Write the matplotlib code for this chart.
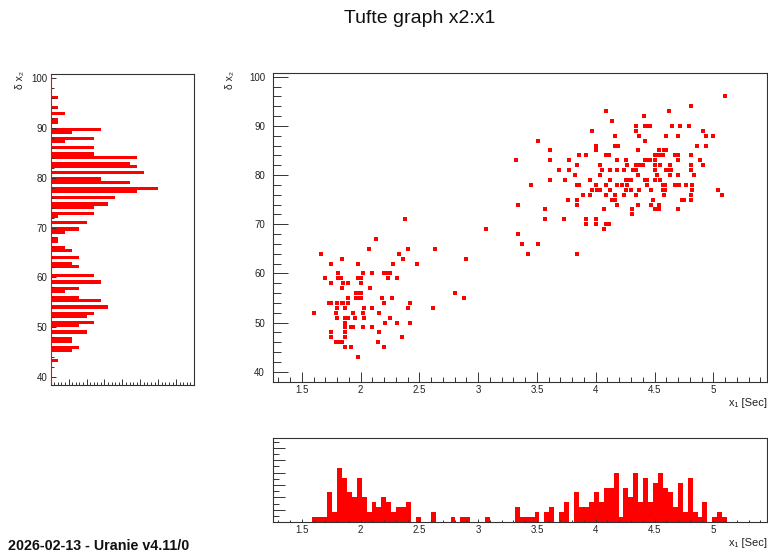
"""Tufte graph x2:x1 -> out.png (scatter with marginal histograms, ROOT look)."""

import matplotlib
matplotlib.use("Agg")
import matplotlib.pyplot as plt
from matplotlib.ticker import MultipleLocator
import numpy as np

plt.rcParams['font.family'] = ['Liberation Sans', 'DejaVu Sans']

# x1 [Sec] values, one line per x2 level (top to bottom)
x1 = [
    5.10,
    4.81,
    4.09, 4.62,
    4.41,
    4.14,
    4.34, 4.42, 4.44, 4.46, 4.65, 4.72, 4.79,
    3.97, 4.34, 4.91,
    4.16, 4.37, 4.60, 4.70, 4.94, 5.00,
    3.51, 4.42,
    4.00, 4.16, 4.18, 4.19, 4.86, 4.94,
    3.61, 4.00, 4.36, 4.54, 4.58, 4.60,
    3.86, 3.92, 4.09, 4.11, 4.50, 4.54, 4.56, 4.57, 4.67, 4.69, 4.70, 4.81,
    3.32, 3.61, 3.77, 4.18, 4.26, 4.42, 4.44, 4.46, 4.50, 4.70, 4.89,
    3.84, 4.04, 4.27, 4.34, 4.36, 4.38, 4.40, 4.50, 4.55, 4.63, 4.81, 4.91,
    3.69, 3.77, 4.05, 4.12, 4.18, 4.24, 4.32, 4.34, 4.50, 4.60, 4.62, 4.64, 4.81,
    3.82, 4.04, 4.36, 4.52, 4.63, 4.70, 4.84,
    3.61, 3.74, 3.95, 4.12, 4.26, 4.28, 4.30, 4.42, 4.44, 4.50, 4.55,
    3.45, 3.84, 3.86, 4.00, 4.09, 4.18, 4.22, 4.27, 4.44, 4.57, 4.59, 4.67, 4.71, 4.77, 4.82,
    3.97, 4.01, 4.04, 4.12, 4.26, 4.30, 4.37, 4.47, 4.57, 4.59, 4.82, 5.04,
    3.89, 3.95, 4.09, 4.16, 4.24, 4.34, 4.58, 4.81, 5.07,
    3.76, 3.84, 4.14, 4.16, 4.49, 4.73, 4.75, 4.81,
    3.34, 3.84, 4.18, 4.36, 4.47, 4.54,
    3.57, 4.07, 4.31, 4.50, 4.54, 4.70,
    4.31,
    2.38, 3.57, 3.73, 3.92, 4.00,
    3.92, 4.00, 4.09, 4.11,
    3.07, 4.07,
    3.34,
    2.13,
    3.37, 3.51,
    2.07, 2.40, 2.63,
    1.66, 2.33, 3.42, 3.84,
    1.84, 2.36, 2.90,
    1.75, 1.98, 2.28, 2.48,
    1.81, 2.02, 2.10, 2.20, 2.22, 2.25,
    1.70, 1.81, 1.83, 1.98, 2.00, 2.23, 2.31,
    1.75, 1.85, 1.89, 2.00,
    1.84, 2.08,
    1.96, 1.98, 2.00, 2.80,
    1.89, 1.96, 1.98, 2.00, 2.18, 2.27, 2.88,
    1.73, 1.75, 1.80, 1.84, 1.85, 1.89, 2.20, 2.42,
    1.80, 1.87, 2.03, 2.10, 2.40, 2.62,
    1.60, 1.79, 1.94, 2.02, 2.16,
    1.80, 1.87, 1.89, 1.95, 2.03, 2.25,
    1.87, 2.21, 2.31, 2.42,
    1.87, 1.92, 1.94, 2.02, 2.10,
    1.75, 1.87, 2.16,
    1.75, 1.87, 2.35,
    1.79, 1.81, 1.84, 2.15,
    1.87, 1.92, 2.20,
    1.98,
]

# matching x2 values
x2 = [
    96,
    94,
    93, 93,
    92,
    91,
    90, 90, 90, 90, 90, 90, 90,
    89, 89, 89,
    88, 88, 88, 88, 88, 88,
    87, 87,
    86, 86, 86, 86, 86, 86,
    85, 85, 85, 85, 85, 85,
    84, 84, 84, 84, 84, 84, 84, 84, 84, 84, 84, 84,
    83, 83, 83, 83, 83, 83, 83, 83, 83, 83, 83,
    82, 82, 82, 82, 82, 82, 82, 82, 82, 82, 82, 82,
    81, 81, 81, 81, 81, 81, 81, 81, 81, 81, 81, 81, 81,
    80, 80, 80, 80, 80, 80, 80,
    79, 79, 79, 79, 79, 79, 79, 79, 79, 79, 79,
    78, 78, 78, 78, 78, 78, 78, 78, 78, 78, 78, 78, 78, 78, 78,
    77, 77, 77, 77, 77, 77, 77, 77, 77, 77, 77, 77,
    76, 76, 76, 76, 76, 76, 76, 76, 76,
    75, 75, 75, 75, 75, 75, 75, 75,
    74, 74, 74, 74, 74, 74,
    73, 73, 73, 73, 73, 73,
    72,
    71, 71, 71, 71, 71,
    70, 70, 70, 70,
    69, 69,
    68,
    67,
    66, 66,
    65, 65, 65,
    64, 64, 64, 64,
    63, 63, 63,
    62, 62, 62, 62,
    60, 60, 60, 60, 60, 60,
    59, 59, 59, 59, 59, 59, 59,
    58, 58, 58, 58,
    57, 57,
    56, 56, 56, 56,
    55, 55, 55, 55, 55, 55, 55,
    54, 54, 54, 54, 54, 54, 54, 54,
    53, 53, 53, 53, 53, 53,
    52, 52, 52, 52, 52,
    51, 51, 51, 51, 51, 51,
    50, 50, 50, 50,
    49, 49, 49, 49, 49,
    48, 48, 48,
    47, 47, 47,
    46, 46, 46, 46,
    45, 45, 45,
    43,
]

x_ticks = [1.5, 2, 2.5, 3, 3.5, 4, 4.5, 5]
x_tick_labels = ["1.5", "2", "2.5", "3", "3.5", "4", "4.5", "5"]
y_ticks = [40, 50, 60, 70, 80, 90, 100]

XMIN, XMAX = 1.253, 5.454
YMIN, YMAX = 37.97, 100.81
NBINS = 100

W, H = 768, 558
RED = "#ff0000"
FRAME = "#333333"


def frame(ax, color=FRAME):
    for s in ax.spines.values():
        s.set_color(color)
        s.set_linewidth(0.8)
    ax.tick_params(which="both", direction="in", color=FRAME, width=0.7,
                   labelsize=7, labelcolor="#222222",
                   top=False, right=False)


def main():
    fig = plt.figure(figsize=(W / 100, H / 100), dpi=100)

    # main scatter
    ax = fig.add_axes([272.7 / W, 1 - 381.7 / H, 494 / W, 309 / H])
    ax.plot(x1, x2, "s", color=RED, ms=2.4, mew=0)
    ax.set_xlim(XMIN, XMAX)
    ax.set_ylim(YMIN, YMAX)
    frame(ax)
    ax.set_xticks(x_ticks, x_tick_labels)
    ax.set_yticks(y_ticks)
    ax.xaxis.set_minor_locator(MultipleLocator(0.1))
    ax.yaxis.set_minor_locator(MultipleLocator(2))
    ax.tick_params(axis="y", which="major", length=10.8, pad=5.5)
    ax.tick_params(axis="y", which="minor", length=5.8)
    ax.tick_params(axis="x", which="major", length=7.2, pad=2.5)
    ax.tick_params(axis="x", which="minor", length=3.6)

    x_edges = np.linspace(XMIN, XMAX, NBINS + 1)
    y_edges = np.linspace(YMIN, YMAX, NBINS + 1)

    # left projection on x2
    axl = fig.add_axes([50.7 / W, 1 - 385 / H, 143.3 / W, 311 / H])
    axl.hist(x2, bins=y_edges, orientation="horizontal", histtype="stepfilled",
             color=RED, lw=0)
    axl.set_ylim(38.3, 100.9)
    axl.set_xlim(0, 20)
    frame(axl)
    axl.spines["left"].set_color(RED)
    axl.set_yticks(y_ticks)
    axl.yaxis.set_minor_locator(MultipleLocator(2))
    axl.xaxis.set_major_locator(MultipleLocator(2.5))
    axl.xaxis.set_minor_locator(MultipleLocator(0.5))
    axl.set_xticklabels([])
    axl.tick_params(axis="y", which="major", length=3.6, pad=2.5)
    axl.tick_params(axis="y", which="minor", length=1.8)
    axl.tick_params(axis="x", which="major", length=4.5)
    axl.tick_params(axis="x", which="minor", length=2.2)

    # bottom projection on x1
    axb = fig.add_axes([272.7 / W, 1 - 522.3 / H, 494 / W, 84 / H])
    axb.hist(x1, bins=x_edges, histtype="stepfilled", color=RED, lw=0)
    axb.set_xlim(XMIN, XMAX)
    axb.set_ylim(0, 16.9)
    frame(axb)
    axb.set_xticks(x_ticks, x_tick_labels)
    axb.xaxis.set_minor_locator(MultipleLocator(0.1))
    axb.yaxis.set_major_locator(MultipleLocator(2.5))
    axb.yaxis.set_minor_locator(MultipleLocator(1.25))
    axb.set_yticklabels([])
    axb.tick_params(axis="x", which="major", length=2.2, pad=2)
    axb.tick_params(axis="x", which="minor", length=1.2)
    axb.tick_params(axis="y", which="major", length=8.6)
    axb.tick_params(axis="y", which="minor", length=4.3)

    # texts
    fig.text(420 / W, 1 - 23 / H, "Tufte graph x2:x1", ha="center",
             va="baseline", fontsize=14, color="#111111")
    fig.text(230 / W, 1 - 71 / H, "δ x₂", rotation=90, ha="center", va="top",
             fontsize=7.5, color="#222222")
    fig.text(20 / W, 1 - 71 / H, "δ x₂", rotation=90, ha="center", va="top",
             fontsize=7.5, color="#222222")
    fig.text(767 / W, 1 - 403 / H, "x₁ [Sec]", ha="right", va="center",
             fontsize=8, color="#222222")
    fig.text(767 / W, 1 - 543 / H, "x₁ [Sec]", ha="right", va="center",
             fontsize=8, color="#222222")
    fig.text(8 / W, 1 - 550 / H, "2026-02-13 - Uranie v4.11/0", ha="left",
             va="baseline", fontsize=10.3, fontweight="bold", color="#111111")

    fig.savefig("out.png", dpi=100)


if __name__ == "__main__":
    main()
